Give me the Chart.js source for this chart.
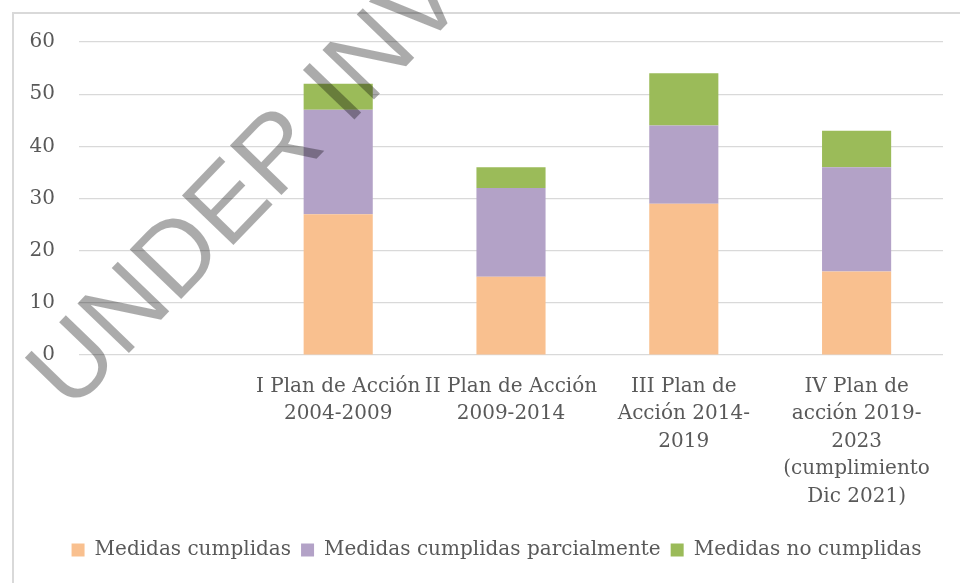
<!DOCTYPE html>
<html>
<head>
<meta charset="utf-8">
<script src="https://cdn.jsdelivr.net/npm/chart.js@4/dist/chart.umd.min.js"></script>
<style>
  html, body { margin: 0; padding: 0; background: #ffffff; }
  #wrap { width: 960px; height: 583px; position: relative; }
</style>
</head>
<body>
<div id="wrap"><canvas id="c" width="960" height="583"></canvas></div>
<script>
// ---- data ----
const categories = [
  "",
  ["I Plan de Acción", "2004-2009"],
  ["II Plan de Acción", "2009-2014"],
  ["III Plan de", "Acción 2014-", "2019"],
  ["IV Plan de", "acción 2019-", "2023", "(cumplimiento", "Dic 2021)"]
];
const seriesNames = ["Medidas cumplidas", "Medidas cumplidas parcialmente", "Medidas no cumplidas"];
const cumplidas = [null, 27, 15, 29, 16];
const parciales = [null, 20, 17, 15, 20];
const noCumplidas = [null, 5, 4, 10, 7];
const yTicks = [0, 10, 20, 30, 40, 50, 60];
const watermarkText = "UNDER INVESTIGATION";

// ---- styles ----
const colors = ["#F9C08F", "#B3A2C7", "#9BBB59"];
const textColor = "#595959";
const gridColor = "#D9D9D9";
const serif = "'DejaVu Serif', 'Liberation Serif', serif";

const frame = {
  id: "frame",
  beforeDraw(chart) {
    const ctx = chart.ctx;
    ctx.save();
    ctx.fillStyle = "#ffffff";
    ctx.fillRect(0, 0, chart.width, chart.height);
    ctx.strokeStyle = gridColor;
    ctx.lineWidth = 2;
    ctx.beginPath();
    ctx.moveTo(13, chart.height + 5);
    ctx.lineTo(13, 13);
    ctx.lineTo(chart.width + 5, 13);
    ctx.stroke();
    ctx.restore();
  }
};

const legendShift = {
  id: "legendShift",
  afterLayout(chart) {
    if (chart.legend) { chart.legend.left += 50; }
  }
};

const watermark = {
  id: "watermark",
  afterDraw(chart) {
    const ctx = chart.ctx;
    const size = 104;
    const ang = -46 * Math.PI / 180;
    ctx.save();
    ctx.font = size + "px 'Liberation Sans', Arial, sans-serif";
    const pre = ctx.measureText("UNDER ").width + 0.141 * size;
    const ax = 358, ay = 116;
    const ox = ax - pre * Math.cos(ang);
    const oy = ay - pre * Math.sin(ang);
    ctx.translate(ox, oy);
    ctx.rotate(ang);
    ctx.fillStyle = "rgba(0,0,0,0.33)";
    ctx.textBaseline = "alphabetic";
    ctx.fillText(watermarkText, 0, 0);
    ctx.restore();
  }
};

const datasets = [cumplidas, parciales, noCumplidas].map((d, i) => ({
  label: seriesNames[i],
  data: d,
  backgroundColor: colors[i],
  borderWidth: 0,
  categoryPercentage: 0.4,
  barPercentage: 1.0
}));

new Chart(document.getElementById("c"), {
  type: "bar",
  data: { labels: categories, datasets },
  plugins: [frame, legendShift, watermark],
  options: {
    responsive: false,
    animation: false,
    devicePixelRatio: 1,
    layout: { padding: { left: 0, right: 17, top: 42, bottom: 13 } },
    plugins: {
      tooltip: { enabled: false },
      legend: {
        position: "bottom",
        labels: {
          boxWidth: 13,
          boxHeight: 13,
          padding: 10,
          color: textColor,
          font: { family: serif, size: 20 }
        }
      }
    },
    scales: {
      x: {
        stacked: true,
        grid: { display: false, drawTicks: false },
        border: { display: false },
        ticks: {
          autoSkip: false,
          maxRotation: 0,
          minRotation: 0,
          padding: 18,
          color: textColor,
          font: { family: serif, size: 20, lineHeight: 1.37 }
        },
        afterFit(scale) { scale.height = 175; }
      },
      y: {
        stacked: true,
        min: 0,
        max: 60,
        afterBuildTicks(scale) { scale.ticks = yTicks.map(v => ({ value: v })); },
        grid: { color: gridColor, lineWidth: 1.2, drawTicks: false },
        border: { display: false },
        ticks: {
          padding: 24,
          color: textColor,
          font: { family: serif, size: 20 }
        },
        afterFit(scale) { scale.width = 79; }
      }
    }
  }
});
</script>
</body>
</html>
